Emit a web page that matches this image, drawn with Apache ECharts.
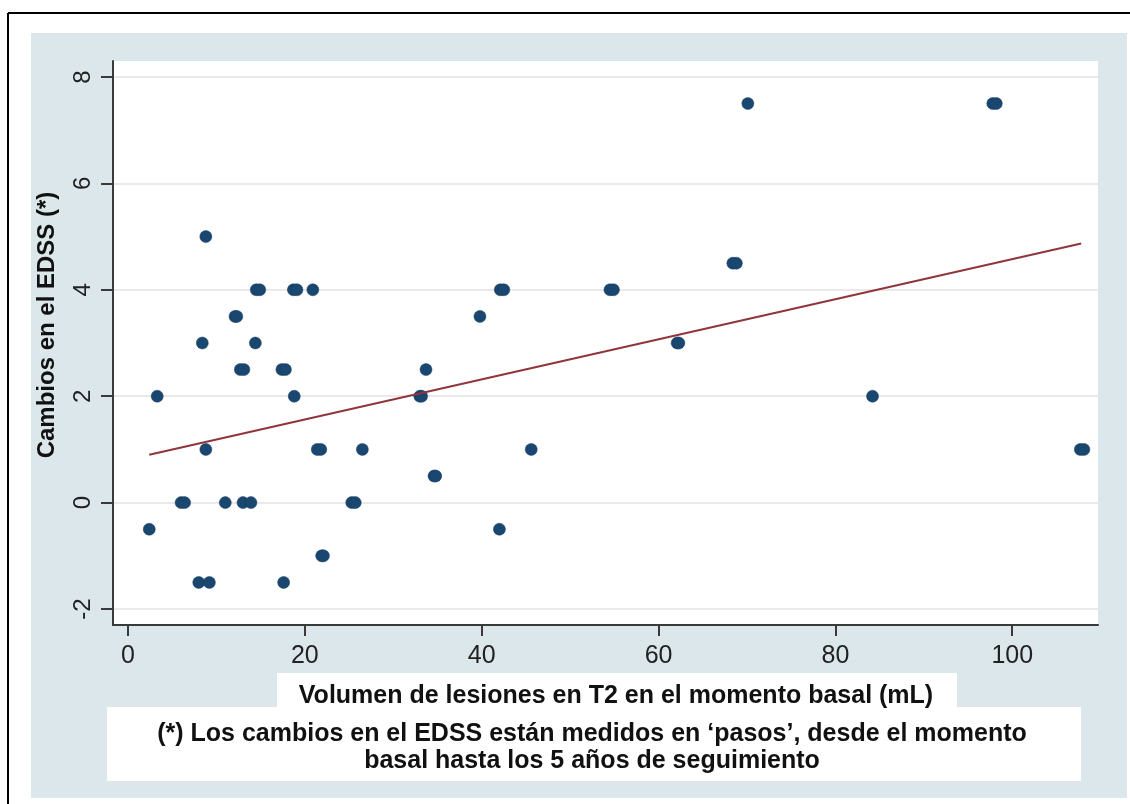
<!DOCTYPE html>
<html>
<head>
<meta charset="utf-8">
<script src="https://cdn.jsdelivr.net/npm/echarts@6/dist/echarts.min.js"></script>
<style>
  html, body { margin: 0; padding: 0; background: #ffffff; }
  #chart { width: 1130px; height: 804px; }
</style>
</head>
<body>
<div id="chart"></div>
<script>
// ---- Data ----
const xVals = [
  2.4, 3.3, 6.0, 6.4, 8.0, 9.2, 8.4, 8.8, 8.8, 11.0,
  12.1, 12.3, 12.7, 13.1, 13.0, 13.9, 14.4, 14.5, 14.9, 17.4,
  17.8, 17.6, 18.8, 18.7, 19.1, 20.9, 21.4, 21.8, 21.9, 22.1,
  25.3, 25.7, 26.5, 33.0, 33.2, 33.7, 34.6, 34.8, 39.8, 42.0,
  42.1, 42.5, 45.6, 54.5, 54.9, 62.1, 62.3, 68.4, 68.8, 70.1,
  84.2, 97.8, 98.2, 107.7, 108.1
];
const yVals = [
  -0.5, 2, 0, 0, -1.5, -1.5, 3, 5, 1, 0,
  3.5, 3.5, 2.5, 2.5, 0, 0, 3, 4, 4, 2.5,
  2.5, -1.5, 2, 4, 4, 4, 1, 1, -1, -1,
  0, 0, 1, 2, 2, 2.5, 0.5, 0.5, 3.5, -0.5,
  4, 4, 1, 4, 4, 3, 3, 4.5, 4.5, 7.5,
  2, 7.5, 7.5, 1, 1
];
// Fitted line endpoints
const fitX = [2.4, 107.8];
const fitY = [0.90, 4.87];

const xTicks = [0, 20, 40, 60, 80, 100];
const yTicks = [-2, 0, 2, 4, 6, 8];

const yTitle = 'Cambios en el EDSS (*)';
const xTitle = 'Volumen de lesiones en T2 en el momento basal (mL)';
const noteLine1 = '(*) Los cambios en el EDSS están medidos en ‘pasos’, desde el momento';
const noteLine2 = 'basal hasta los 5 años de seguimiento';

// ---- Build series data ----
const scatterData = xVals.map((x, i) => [x, yVals[i]]);
const fitData = fitX.map((x, i) => [x, fitY[i]]);

const FONT = '"Liberation Sans", Arial, Helvetica, sans-serif';
const axisColor = '#3a3a3a';

const chart = echarts.init(document.getElementById('chart'), null, { renderer: 'canvas' });

chart.setOption({
  animation: false,
  backgroundColor: '#ffffff',
  graphic: [
    { type: 'rect', z: -20, silent: true,
      shape: { x: 31, y: 33, width: 1096, height: 765 },
      style: { fill: '#dbe7eb' } },
    { type: 'line', z: -10, silent: true,
      shape: { x1: 8, y1: 13, x2: 1130, y2: 13 },
      style: { stroke: '#000', lineWidth: 2 } },
    { type: 'line', z: -10, silent: true,
      shape: { x1: 8, y1: 13, x2: 8, y2: 804 },
      style: { stroke: '#000', lineWidth: 2 } },
    { type: 'rect', z: -10, silent: true,
      shape: { x: 277, y: 673, width: 680, height: 36 },
      style: { fill: '#ffffff' } },
    { type: 'rect', z: -10, silent: true,
      shape: { x: 107, y: 707, width: 974, height: 74 },
      style: { fill: '#ffffff' } },
    { type: 'text', z: 10, silent: true,
      x: 47, y: 325, rotation: Math.PI / 2,
      style: { text: yTitle, fill: '#111', font: 'bold 24px ' + FONT,
               align: 'center', verticalAlign: 'middle' } },
    { type: 'text', z: 10, silent: true,
      x: 616, y: 696,
      style: { text: xTitle, fill: '#111', font: 'bold 25px ' + FONT,
               align: 'center', verticalAlign: 'middle' } },
    { type: 'text', z: 10, silent: true,
      x: 592, y: 734,
      style: { text: noteLine1, fill: '#111', font: 'bold 25px ' + FONT,
               align: 'center', verticalAlign: 'middle' } },
    { type: 'text', z: 10, silent: true,
      x: 592, y: 761,
      style: { text: noteLine2, fill: '#111', font: 'bold 25px ' + FONT,
               align: 'center', verticalAlign: 'middle' } }
  ],
  grid: {
    left: 113, top: 61, width: 985, height: 564,
    show: true, backgroundColor: '#ffffff', borderWidth: 0,
    containLabel: false
  },
  xAxis: {
    type: 'value',
    min: -1.7, max: 109.7,
    axisLine: { show: true, onZero: false, lineStyle: { color: axisColor, width: 2 } },
    axisTick: { show: true, customValues: xTicks, length: 11, lineStyle: { color: axisColor, width: 2 } },
    axisLabel: { show: true, customValues: xTicks, fontSize: 25, color: '#222',
                 fontFamily: FONT, margin: 19 },
    splitLine: { show: false }
  },
  yAxis: {
    type: 'value',
    min: -2.3, max: 8.3,
    axisLine: { show: true, onZero: false, lineStyle: { color: axisColor, width: 2 } },
    axisTick: { show: true, customValues: yTicks, length: 12, lineStyle: { color: axisColor, width: 2 } },
    axisLabel: { show: true, customValues: yTicks, fontSize: 24, color: '#222',
                 fontFamily: FONT, rotate: 90, margin: 18 },
    splitLine: { show: true, lineStyle: { color: '#e9e9e9', width: 2 } }
  },
  series: [
    {
      type: 'scatter',
      data: scatterData,
      symbol: 'circle',
      symbolSize: 12,
      itemStyle: { color: '#1a476f', borderColor: '#163d60', borderWidth: 0.5, opacity: 1 },
      z: 3
    },
    {
      type: 'line',
      data: fitData,
      symbol: 'none',
      lineStyle: { color: '#90353b', width: 2 },
      z: 4
    }
  ]
});
</script>
</body>
</html>
